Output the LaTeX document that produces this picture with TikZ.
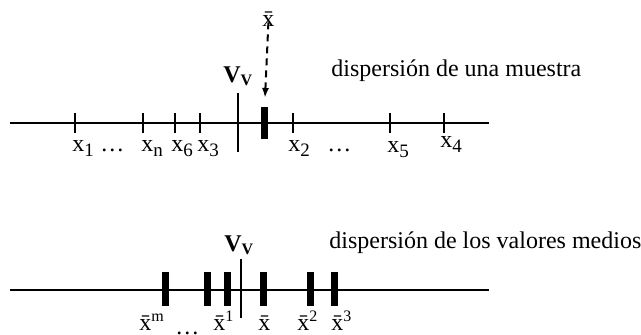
\documentclass[tikz,border=0pt]{standalone}
\usepackage{fontspec}
\setmainfont{Liberation Serif}
\usetikzlibrary{arrows.meta}
\newcommand{\lowidx}[1]{\raisebox{-2.6pt}{\fontsize{9.5}{10}\selectfont #1}}

\begin{document}
\begin{tikzpicture}[x=0.5pt,y=-0.5pt,font=\fontsize{12}{14}\selectfont,
    tickmark/.style={line width=0.8pt},
    meanbar/.style={line width=3.5pt},
    lbl/.style={anchor=base west,inner sep=0pt}]
  \useasboundingbox (0,0) rectangle (641,334);
  % dispersion de una muestra
  \draw[line width=1pt] (10,123) -- (489,123);
  \foreach \p in {75,143,175,200,293,390,444}
    \draw[tickmark] (\p,113) -- (\p,133);
  \draw[line width=0.8pt] (238,93) -- (238,152);
  \draw[meanbar] (264.5,107) -- (264.5,139);
  \node[lbl] (vv1) at (223,82) {\textbf{V\textsubscript{V}}};
  \node[lbl] (xm1) at (262,26) {\={x}};
  \coordinate (tip1) at (265,98);
  \draw[line width=1pt,dash pattern=on 3.5pt off 2.5pt,-{Latex[length=5pt,width=3.5pt]}] (xm1.south) ++(0,-4) -- (tip1);
  \node[lbl] (t1) at (331,76) {dispersión de una muestra};
  \node[lbl] (x1) at (72,151) {x\lowidx{1}};
  \node[lbl] (d1) at (100,151) {\dots};
  \node[lbl] (xn) at (141,151) {x\lowidx{n}};
  \node[lbl] (x6) at (171,151) {x\lowidx{6}};
  \node[lbl] (x3) at (197,151) {x\lowidx{3}};
  \node[lbl] (x2) at (288,151) {x\lowidx{2}};
  \node[lbl] (d2) at (327,151) {\dots};
  \node[lbl] (x5) at (387,152) {x\lowidx{5}};
  \node[lbl] (x4) at (440,147) {x\lowidx{4}};
  % dispersion de los valores medios
  \draw[line width=1pt] (10,290) -- (489,290);
  \foreach \p in {165,207,227,263,310,334}
    \draw[meanbar] (\p,272) -- (\p,306);
  \draw[line width=0.8pt] (241,259) -- (241,318);
  \node[lbl] (vv2) at (224,251) {\textbf{V\textsubscript{V}}};
  \node[lbl] (t2) at (329,248) {dispersión de los valores medios};
  \node[lbl] (xbm) at (139,330) {\={x}\textsuperscript{m}};
  \node[lbl] (d3) at (175,334) {\dots};
  \node[lbl] (xb1) at (213,330) {\={x}\textsuperscript{1}};
  \node[lbl] (xb) at (258,330) {\={x}};
  \node[lbl] (xb2) at (297,330) {\={x}\textsuperscript{2}};
  \node[lbl] (xb3) at (331,330) {\={x}\textsuperscript{3}};
\end{tikzpicture}
\end{document}
